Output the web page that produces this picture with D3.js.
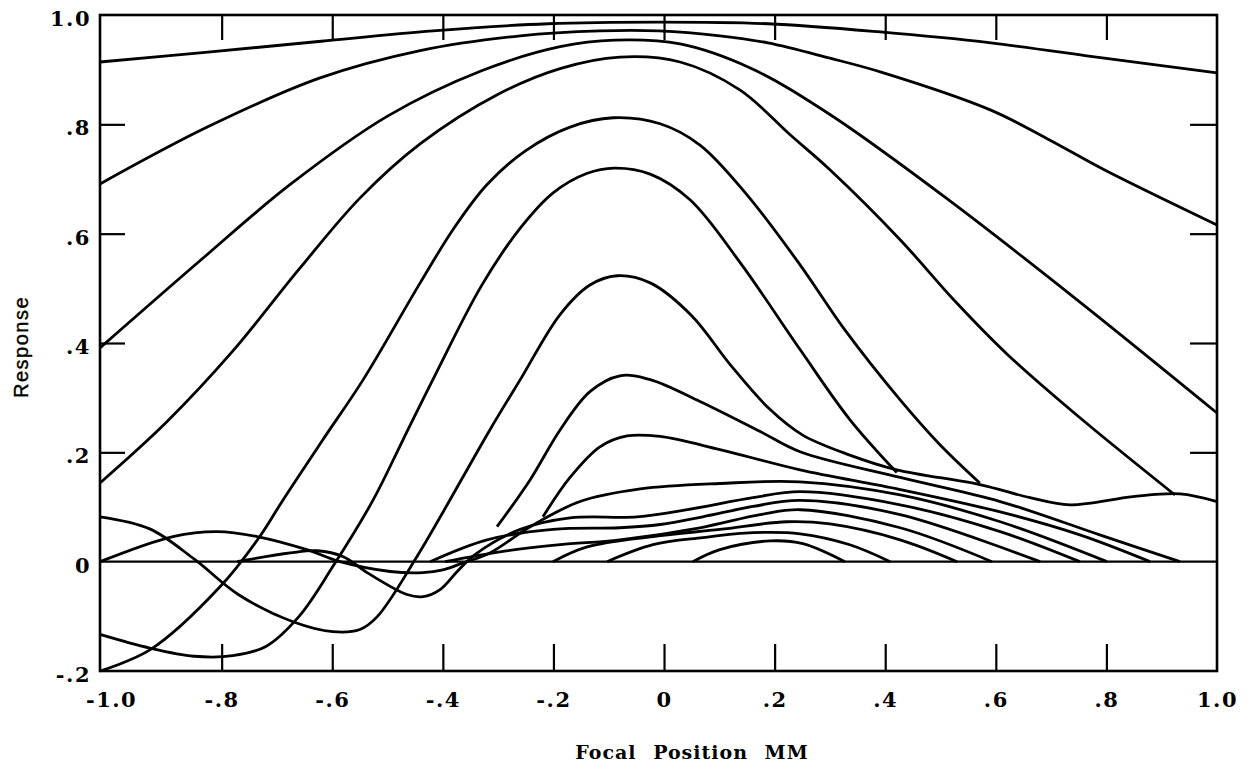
<!DOCTYPE html>
<html lang="en">
<head>
  <meta charset="UTF-8" />
  <title>Response vs Focal Position</title>
  <script src="https://d3js.org/d3.v7.min.js"></script>
  <style>
    body { margin: 0; background: #fff; }
    svg { display: block; background: #fff; }
    .tick-label text {
      font-family: "DejaVu Serif", serif;
      font-weight: bold;
      font-size: 21px;
      letter-spacing: 1.5px;
      fill: #000;
    }
    .curve { fill: none; stroke: #000; stroke-width: 2.8px; stroke-linejoin: round; }
  </style>
</head>
<body>
<svg id="chart"></svg>
<script>
  // ticks
  const xTicks = [-1.0, -0.8, -0.6, -0.4, -0.2, 0, 0.2, 0.4, 0.6, 0.8, 1.0];
  const yTicks = [-0.2, 0, 0.2, 0.4, 0.6, 0.8, 1.0];

  // curves: [focal position mm, response]
  const curveA = [[-1.02,0.914],[-0.825,0.932],[-0.62,0.952],[-0.418,0.971],[-0.21,0.984],[-0.009,0.987],
    [0.188,0.984],[0.391,0.969],[0.591,0.949],[0.796,0.921],[1.0,0.894]];
  const curveB = [[-1.02,0.691],[-0.826,0.795],[-0.622,0.885],[-0.441,0.935],[-0.26,0.962],[-0.116,0.971],
    [-0.009,0.971],[0.101,0.962],[0.188,0.949],[0.3,0.921],[0.391,0.896],[0.591,0.826],[0.698,0.771],
    [0.796,0.717],[1.0,0.616]];
  const curveC = [[-1.02,0.391],[-0.834,0.555],[-0.676,0.69],[-0.5,0.815],[-0.33,0.898],[-0.188,0.942],
    [-0.089,0.954],[0.029,0.947],[0.156,0.903],[0.3,0.818],[0.517,0.66],[0.747,0.479],[1.0,0.272]];
  const curveD = [[-1.02,0.144],[-0.9,0.255],[-0.78,0.385],[-0.66,0.535],[-0.55,0.665],[-0.44,0.765],
    [-0.3,0.855],[-0.188,0.902],[-0.08,0.923],[0.029,0.914],[0.137,0.863],[0.228,0.781],[0.3,0.717],
    [0.427,0.589],[0.523,0.48],[0.62,0.38],[0.75,0.265],[0.924,0.122]];
  const curveE = [[-1.02,-0.2],[-0.929,-0.161],[-0.803,-0.046],[-0.731,0.046],[-0.689,0.113],[-0.617,0.223],
    [-0.544,0.333],[-0.441,0.51],[-0.38,0.61],[-0.32,0.69],[-0.25,0.752],[-0.17,0.795],[-0.092,0.812],
    [-0.007,0.801],[0.065,0.762],[0.15,0.671],[0.246,0.543],[0.327,0.424],[0.427,0.296],[0.499,0.214],
    [0.571,0.144]];
  const curveF = [[-1.02,-0.133],[-0.93,-0.158],[-0.85,-0.173],[-0.78,-0.172],[-0.72,-0.155],[-0.66,-0.1],
    [-0.599,-0.009],[-0.526,0.113],[-0.472,0.223],[-0.418,0.333],[-0.33,0.505],[-0.26,0.61],[-0.2,0.675],
    [-0.14,0.71],[-0.09,0.72],[-0.025,0.709],[0.047,0.662],[0.137,0.548],[0.246,0.388],[0.336,0.26],
    [0.421,0.163]];
  const curveG = [[-1.02,0.082],[-0.93,0.06],[-0.85,0.005],[-0.77,-0.06],[-0.671,-0.11],[-0.599,-0.128],
    [-0.55,-0.124],[-0.519,-0.101],[-0.447,0.009],[-0.315,0.241],[-0.26,0.333],[-0.188,0.452],
    [-0.134,0.506],[-0.085,0.523],[-0.025,0.51],[0.05,0.45],[0.12,0.36],[0.19,0.28],[0.25,0.232],
    [0.336,0.195],[0.421,0.168],[0.571,0.141],[0.662,0.117],[0.734,0.104],[0.848,0.119],[0.933,0.124],
    [1.0,0.11]];
  const curveH = [[-0.302,0.064],[-0.242,0.15],[-0.188,0.241],[-0.134,0.311],[-0.08,0.34],[-0.025,0.333],
    [0.065,0.293],[0.174,0.238],[0.246,0.201],[0.427,0.154],[0.608,0.11],[0.788,0.049],[0.933,0]];
  const curveI = [[-0.219,0.082],[-0.17,0.154],[-0.116,0.21],[-0.067,0.23],[-0.007,0.229],[0.101,0.205],
    [0.246,0.168],[0.427,0.132],[0.608,0.091],[0.752,0.049],[0.879,0]];
  const curveJ = [[-1.02,0],[-0.888,0.046],[-0.808,0.055],[-0.736,0.046],[-0.646,0.022],[-0.586,0],
    [-0.495,-0.018],[-0.436,-0.02],[-0.4,-0.015],[-0.363,-0.002],[-0.315,0.016],[-0.242,0.064],[-0.152,0.11],
    [-0.043,0.133],[0.101,0.143],[0.246,0.146],[0.427,0.122],[0.608,0.073],[0.801,0]];
  const curveK = [[-0.772,0],[-0.676,0.016],[-0.627,0.02],[-0.58,0.009],[-0.537,-0.02],[-0.465,-0.06],
    [-0.436,-0.064],[-0.405,-0.051],[-0.374,-0.018],[-0.342,0.013],[-0.26,0.059],[-0.17,0.08],[-0.049,0.082],
    [0.042,0.095],[0.161,0.117],[0.246,0.128],[0.427,0.104],[0.608,0.055],[0.752,0]];
  const curveL = [[-0.423,0],[-0.32,0.04],[-0.201,0.059],[-0.08,0.062],[-0.007,0.068],[0.07,0.082],
    [0.161,0.101],[0.246,0.112],[0.427,0.086],[0.68,0]];
  const curveL2 = [[-0.396,0],[-0.297,0.018],[-0.188,0.031],[-0.08,0.04],[0.065,0.062],[0.174,0.086],
    [0.246,0.095],[0.427,0.062],[0.593,0]];
  const curveM = [[-0.201,0],[-0.139,0.027],[-0.02,0.046],[0.101,0.059],[0.222,0.073],[0.3,0.069],
    [0.427,0.04],[0.53,0]];
  const curveN = [[-0.103,0],[-0.02,0.031],[0.07,0.044],[0.161,0.053],[0.246,0.051],[0.336,0.031],[0.409,0]];
  const curveO = [[0.052,0],[0.101,0.022],[0.192,0.038],[0.251,0.033],[0.327,0]];

  const curves = [curveA, curveB, curveC, curveD, curveE, curveF, curveG, curveH, curveI,
    curveJ, curveK, curveL, curveL2, curveM, curveN, curveO];

  const width = 1254, height = 773;
  const svg = d3.select("#chart").attr("width", width).attr("height", height);

  // frame runs a little left of -1.0 as in the original plate
  const x = d3.scaleLinear().domain([-1.02, 1.0]).range([100, 1217]);
  const y = d3.scaleLinear().domain([-0.2, 1.0]).range([671, 15]);

  const fmt = v => v === 0 ? "0" : (Math.abs(v) === 1 ? v.toFixed(1) : v.toFixed(1).replace("0.", "."));

  // inner ticks on all four sides
  const inner = [-0.8, -0.6, -0.4, -0.2, 0, 0.2, 0.4, 0.6, 0.8];
  const innerY = [0.2, 0.4, 0.6, 0.8];
  svg.append("g").attr("transform", `translate(0,${y(1)})`)
    .call(d3.axisBottom(x).tickValues(inner).tickSize(25).tickFormat(""));
  svg.append("g").attr("transform", `translate(0,${y(-0.2)})`)
    .call(d3.axisTop(x).tickValues(inner).tickSize(27).tickFormat(""));
  svg.append("g").attr("transform", `translate(${x(-1.02)},0)`)
    .call(d3.axisRight(y).tickValues(innerY).tickSize(25).tickFormat(""));
  svg.append("g").attr("transform", `translate(${x(1)},0)`)
    .call(d3.axisLeft(y).tickValues(innerY).tickSize(27).tickFormat(""));
  svg.selectAll(".domain").remove();
  svg.selectAll(".tick line").attr("stroke", "#000").attr("stroke-width", 2.2);

  // tick labels
  const xl = svg.append("g").attr("class", "tick-label")
    .attr("transform", `translate(0,${y(-0.2)})`)
    .call(d3.axisBottom(x).tickValues(xTicks).tickSize(0).tickPadding(21).tickFormat(fmt));
  const yl = svg.append("g").attr("class", "tick-label")
    .attr("transform", `translate(${x(-1.02)},0)`)
    .call(d3.axisLeft(y).tickValues(yTicks).tickSize(0).tickPadding(9).tickFormat(fmt));
  xl.select(".domain").remove();
  yl.select(".domain").remove();
  yl.selectAll("text").attr("dy", "0.5em");

  // frame and zero line
  svg.append("rect")
    .attr("x", x(-1.02)).attr("y", y(1))
    .attr("width", x(1) - x(-1.02)).attr("height", y(-0.2) - y(1))
    .attr("fill", "none").attr("stroke", "#000").attr("stroke-width", 2.6);
  svg.append("line")
    .attr("x1", x(-1.02)).attr("x2", x(1)).attr("y1", y(0)).attr("y2", y(0))
    .attr("stroke", "#000").attr("stroke-width", 2.4);

  const line = d3.line().x(d => x(d[0])).y(d => y(d[1])).curve(d3.curveCatmullRom.alpha(0.5));
  svg.append("g").selectAll("path").data(curves).join("path")
    .attr("class", "curve").attr("d", line);

  // axis titles
  svg.append("text")
    .attr("x", 692).attr("y", 759)
    .attr("text-anchor", "middle")
    .attr("font-family", "DejaVu Serif, serif").attr("font-weight", "bold")
    .attr("font-size", 19).attr("letter-spacing", 1).attr("word-spacing", 9)
    .text("Focal Position MM");
  svg.append("text")
    .attr("transform", "translate(28,347) rotate(-90)")
    .attr("text-anchor", "middle")
    .attr("font-family", "Liberation Sans, Arial, sans-serif")
    .attr("font-size", 20).attr("letter-spacing", 1.5)
    .attr("stroke", "#000").attr("stroke-width", 0.4)
    .text("Response");
</script>
</body>
</html>
